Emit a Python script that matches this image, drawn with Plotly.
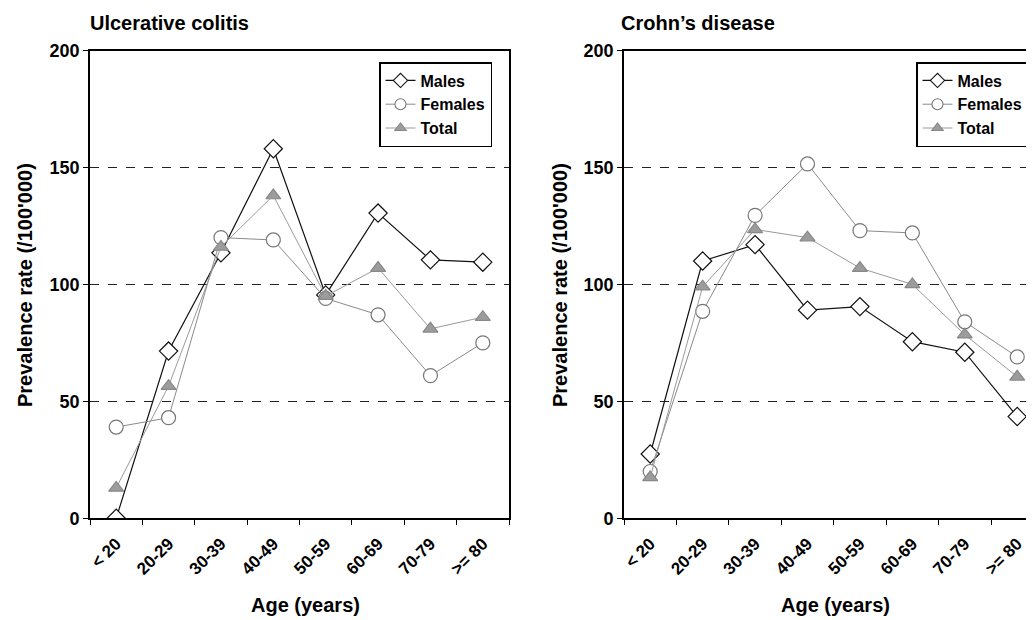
import plotly.graph_objects as go

# The page body has an 8px margin, so the figure is 8px smaller and every
# reference pixel coordinate is shifted by OFF.
OFF = 8
W, H = 1034 - OFF, 620 - OFF


def px(x):
    return (x - OFF) / W


def py(y):
    return (H - (y - OFF)) / H


age_groups = ["< 20", "20-29", "30-39", "40-49", "50-59", "60-69", "70-79", ">= 80"]

uc_males = [0, 71.5, 113.5, 158, 95.5, 130.5, 110.5, 109.5]
uc_females = [39, 43, 120, 119, 94, 87, 61, 75]
uc_total = [13, 56.5, 116, 138, 95, 107, 81, 86]

cd_males = [27.5, 110, 117, 89, 90.5, 75.5, 71, 43.5]
cd_females = [20, 88.5, 129.5, 151.5, 123, 122, 84, 69]
cd_total = [17.5, 99, 123.5, 120, 107, 100, 78.5, 60.5]

y_ticks = [0, 50, 100, 150, 200]

FONT = "Liberation Sans, Arial, Helvetica, sans-serif"

STYLES = {
    "Males": dict(line=dict(color="#111111", width=1.2),
                  symbol="diamond", fill="white", edge="#111111", size=14),
    "Females": dict(line=dict(color="#8a8a8a", width=1),
                    symbol="circle", fill="white", edge="#777777", size=14),
    "Total": dict(line=dict(color="#9a9a9a", width=1),
                  symbol="triangle-up", fill="#9c9c9c", edge="#888888", size=13),
}

fig = go.Figure()


def add_panel(series, xa, ya, legend):
    for name, values in series:
        s = STYLES[name]
        fig.add_trace(go.Scatter(
            x=age_groups, y=values, name=name, mode="lines+markers",
            xaxis=xa, yaxis=ya, showlegend=False,
            line=s["line"],
            marker=dict(symbol=s["symbol"], size=s["size"], color=s["fill"],
                        line=dict(color=s["edge"], width=1.2)),
        ))
    # legend-only entries with smaller symbols (no data drawn)
    for name, _ in series:
        s = STYLES[name]
        fig.add_trace(go.Scatter(
            x=[None], y=[None], name=name, mode="lines+markers",
            xaxis=xa, yaxis=ya, legend=legend, showlegend=True,
            line=s["line"],
            marker=dict(symbol=s["symbol"], size=s["size"] - 3,
                        color=s["fill"],
                        line=dict(color=s["edge"], width=1.1)),
        ))


add_panel([("Males", uc_males), ("Females", uc_females), ("Total", uc_total)],
          "x", "y", "legend")
add_panel([("Males", cd_males), ("Females", cd_females), ("Total", cd_total)],
          "x2", "y2", "legend2")

ydom = [py(518.3), py(50.5)]

xcommon = dict(
    type="category", showgrid=False, showline=True, linecolor="black",
    linewidth=1.6, ticks="outside", tickson="boundaries", ticklen=5,
    tickcolor="black", tickwidth=1.3, tickangle=-45, ticklabelstandoff=7,
    tickfont=dict(family=FONT, size=17, color="black", weight="bold"),
    zeroline=False,
)
ycommon = dict(
    range=[0, 200], tickvals=y_ticks, showline=True, linecolor="black",
    linewidth=1.6, ticks="outside", ticklen=5, tickcolor="black",
    tickwidth=1.3, showgrid=True, gridcolor="#222222", gridwidth=1,
    griddash="dash", zeroline=False, domain=ydom,
    tickfont=dict(family=FONT, size=18, color="black", weight="bold"),
)

legend_common = dict(
    xanchor="left", yanchor="top", bgcolor="white", bordercolor="black",
    borderwidth=1.5, tracegroupgap=0, itemsizing="trace", itemwidth=30,
    font=dict(family=FONT, size=16, color="black", weight="bold"),
)

fig.update_layout(
    width=W, height=H,
    margin=dict(l=0, r=0, t=0, b=0, autoexpand=False),
    paper_bgcolor="white", plot_bgcolor="white",
    font=dict(family=FONT, color="black"),
    xaxis=dict(xcommon, domain=[px(90), px(509)], range=[-0.5, 7.5],
               mirror=True, anchor="y"),
    yaxis=dict(ycommon, mirror=True, anchor="x"),
    xaxis2=dict(xcommon, domain=[px(624), 1.0], range=[-0.5, 7.32],
                mirror=True, anchor="y2"),
    yaxis2=dict(ycommon, mirror=False, anchor="x2"),
    legend=dict(legend_common, x=px(379), y=py(62)),
    legend2=dict(legend_common, x=px(916), y=py(62)),
    showlegend=True,
)

ann_font = dict(family=FONT, size=20, color="black", weight="bold")
annotations = [
    dict(text="Ulcerative colitis", x=px(88), y=py(23), xanchor="left"),
    dict(text="Crohn’s disease", x=px(619), y=py(23), xanchor="left"),
    dict(text="Prevalence rate (/100'000)", x=px(25), y=py(285),
         xanchor="center", textangle=-90),
    dict(text="Prevalence rate (/100'000)", x=px(560), y=py(285),
         xanchor="center", textangle=-90),
    dict(text="Age (years)", x=px(305), y=py(605), xanchor="center"),
    dict(text="Age (years)", x=px(835), y=py(605), xanchor="center"),
]
for a in annotations:
    a.update(xref="paper", yref="paper", yanchor="middle", showarrow=False,
             font=ann_font)
fig.update_layout(annotations=annotations)

fig.write_html("out.html")
